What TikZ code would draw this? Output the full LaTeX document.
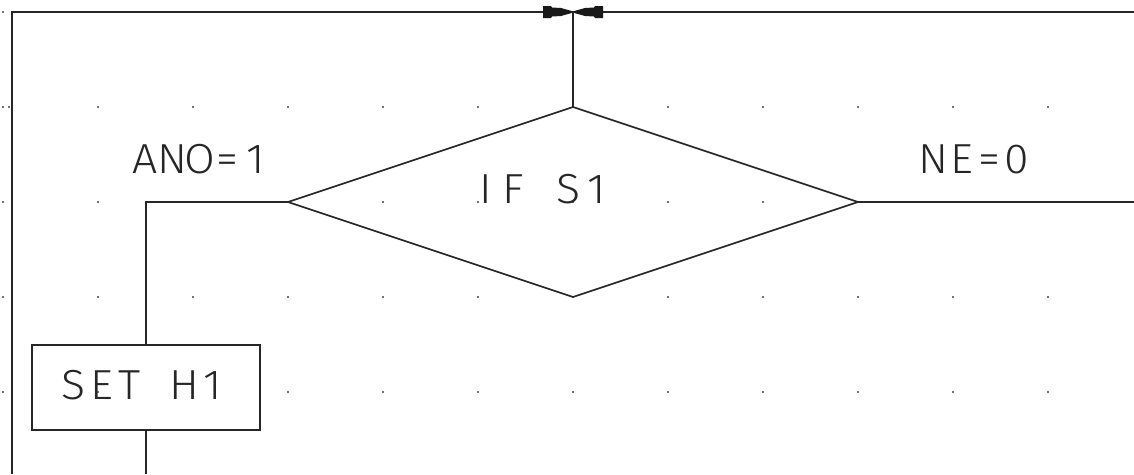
\documentclass[tikz,border=0pt]{standalone}
\usepackage{fontspec}
\IfFontExistsTF{Fira Sans Light}{\newfontfamily\cadfont{Fira Sans Light}}{%
 \IfFontExistsTF{DejaVu Sans ExtraLight}{\newfontfamily\cadfont{DejaVu Sans ExtraLight}}{%
  \IfFontExistsTF{Lato Light}{\newfontfamily\cadfont{Lato Light}}{%
   \newfontfamily\cadfont{Liberation Sans}}}}
\usetikzlibrary{shapes.geometric}
% one character cell of the monospaced CAD lettering
\newcommand\cc[1]{\makebox[27.7pt][c]{\scalebox{1.06}[1]{#1}}}
\newcommand\csp{\hspace*{27.7pt}}
\begin{document}
\begin{tikzpicture}[x=1pt,y=-1pt,
  wire/.style={line width=1.6pt,draw=black!85},
  cadtext/.style={font=\cadfont\fontsize{42}{50}\selectfont,text=black!85},
  lbl/.style={cadtext,inner sep=0pt,anchor=base},
  griddot/.style={fill=black!55},
  arrowhead/.style={fill=black!90}]
\useasboundingbox (0,0) rectangle (1134,474);
\fill[white] (0,0) rectangle (1134,474);
% grid dots
\foreach \r in {12,107,202,297,392}{
  \foreach \c in {0,...,11}{
    \fill[griddot] ({3+95*\c-1},{\r-1}) rectangle ++(2,2);
  }
}
\fill[griddot] (8,106) rectangle ++(2,2);
% coordinates
\coordinate (TL) at (12,12);
\coordinate (BL) at (12,474);
\coordinate (TR) at (1134,12);
\coordinate (J) at (573,12);
\coordinate (R) at (1134,202);
\coordinate (B) at (146,474);
% nodes
\node[diamond,aspect=3,draw,wire,minimum width=570pt,minimum height=190pt,inner sep=0pt,outer sep=0pt] (dia) at (573,202) {};
\node[draw,wire,minimum width=228pt,minimum height=85pt,inner sep=0pt,outer sep=0pt] (box) at (146,387.5) {};
\node[lbl] (set) at (143,399) {\cc{S}\cc{E}\cc{T}\csp\cc{H}\cc{1}};
\node[lbl] (ano) at (200,173) {\cc{A}\cc{N}\cc{O}\cc{=}\cc{1}};
\node[lbl] (ne) at (975.5,173) {\cc{N}\cc{E}\cc{=}\cc{0}};
\node[lbl] (ifs) at (541,203) {\cc{I}\cc{F}\csp\cc{S}\cc{1}};
% connectors
\draw[wire] (BL) -- (TL) -- (J);
\draw[wire] (TR) -- (J);
\draw[wire] (J) -- (dia.north);
\draw[wire] (dia.west) -| (box.north);
\draw[wire] (box.south) -- (B);
\draw[wire] (dia.east) -- (R);
% arrowheads on the top line
\fill[arrowhead,shift={(J)}] (-30,-6) -- (-22,-6) -- (-21,-4.5) -- (-12,-4) -- (-2,-1.2) -- (-2,1.2) -- (-12,4) -- (-21,4.5) -- (-22,6) -- (-30,6) -- cycle;
\fill[arrowhead,shift={(J)}] (30,-6) -- (22,-6) -- (21,-4.5) -- (12,-4) -- (2,-1.2) -- (2,1.2) -- (12,4) -- (21,4.5) -- (22,6) -- (30,6) -- cycle;
\end{tikzpicture}
\end{document}
